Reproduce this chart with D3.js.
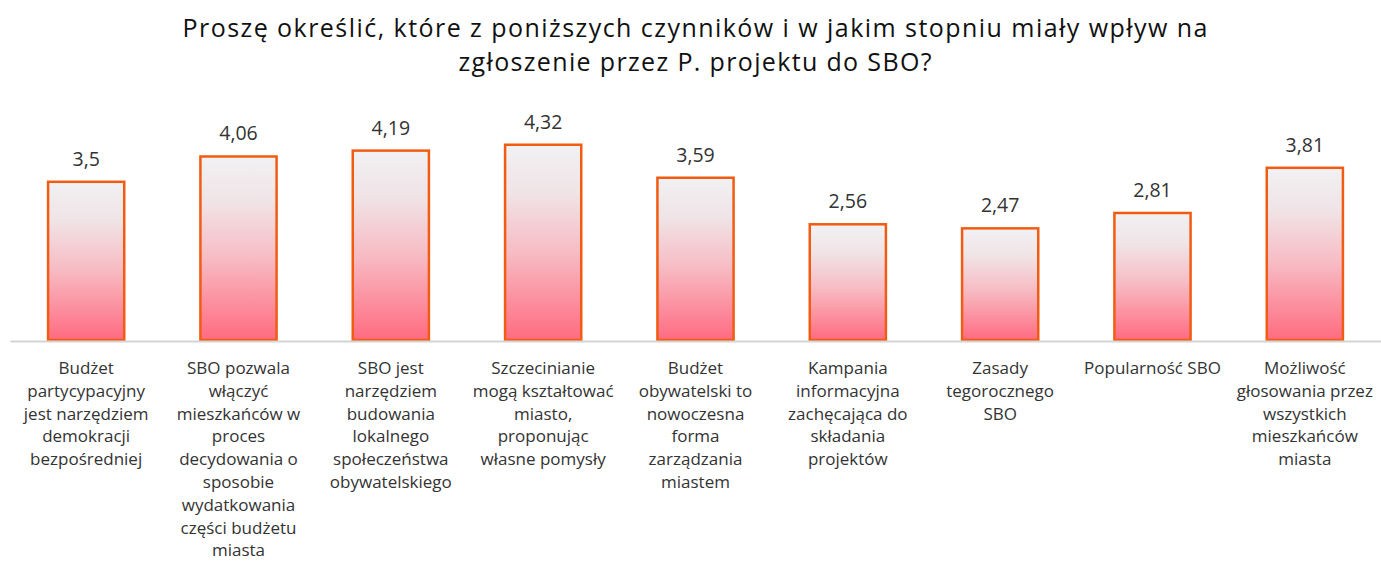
<!DOCTYPE html>
<html>
<head>
<meta charset="utf-8">
<script src="https://cdn.jsdelivr.net/npm/d3@7"></script>
<style>
  body { margin: 0; background: #fff; }
  svg { display: block; font-family: "Open Sans", "DejaVu Sans", sans-serif; }
</style>
</head>
<body>
<div id="chart"></div>
<script>
// title lines
const titleLines = [
    "Proszę określić, które z poniższych czynników i w jakim stopniu miały wpływ na",
    "zgłoszenie przez P. projektu do SBO?"
];
const titleWidths = [1025, 473];

// category labels, already split into lines like in the source chart
const categories = [
    ["Budżet", "partycypacyjny", "jest narzędziem", "demokracji", "bezpośredniej"],
    ["SBO pozwala", "włączyć", "mieszkańców w", "proces", "decydowania o", "sposobie", "wydatkowania", "części budżetu", "miasta"],
    ["SBO jest", "narzędziem", "budowania", "lokalnego", "społeczeństwa", "obywatelskiego"],
    ["Szczecinianie", "mogą kształtować", "miasto,", "proponując", "własne pomysły"],
    ["Budżet", "obywatelski to", "nowoczesna", "forma", "zarządzania", "miastem"],
    ["Kampania", "informacyjna", "zachęcająca do", "składania", "projektów"],
    ["Zasady", "tegorocznego", "SBO"],
    ["Popularność SBO"],
    ["Możliwość", "głosowania przez", "wszystkich", "mieszkańców", "miasta"]
];

const values = [3.5, 4.06, 4.19, 4.32, 3.59, 2.56, 2.47, 2.81, 3.81];

const width = 1381, height = 579;
const baseY = 340;

const svg = d3.select("#chart")
    .append("svg")
        .attr("width", width)
        .attr("height", height);

// gradient fill of bars
const grad = svg.append("defs").append("linearGradient")
    .attr("id", "barGrad")
    .attr("x1", 0).attr("y1", 0).attr("x2", 0).attr("y2", 1);
grad.append("stop").attr("offset", "0%").attr("stop-color", "#f1f1f3");
grad.append("stop").attr("offset", "25%").attr("stop-color", "#f0e3e6");
grad.append("stop").attr("offset", "55%").attr("stop-color", "#f7bcc4");
grad.append("stop").attr("offset", "100%").attr("stop-color", "#ff6b80");

const idx = d3.range(values.length);

const x = d3.scaleBand()
    .domain(idx)
    .range([10, 1381])
    .paddingInner(0.5)
    .paddingOuter(0.25);

const y = d3.scaleLinear()
    .domain([0, 4.32])
    .range([baseY, baseY - 4.32 * 45.2]);

// title
svg.append("g")
    .selectAll("text")
    .data(titleLines)
    .join("text")
        .attr("x", 695)
        .attr("y", (d, i) => 37 + i * 34)
        .attr("text-anchor", "middle")
        .attr("textLength", (d, i) => titleWidths[i])
        .attr("lengthAdjust", "spacing")
        .style("font-size", "25px")
        .style("fill", "#111")
        .text(d => d);

// bars
svg.append("g")
    .selectAll("rect")
    .data(values)
    .join("rect")
        .attr("x", (d, i) => x(i))
        .attr("y", d => y(d))
        .attr("width", x.bandwidth())
        .attr("height", d => baseY - y(d))
        .attr("fill", "url(#barGrad)")
        .attr("stroke", "#f25c12")
        .attr("stroke-width", 2.5);

// axis line
svg.append("g")
    .attr("transform", `translate(0,${baseY + 1})`)
    .call(d3.axisBottom(x).tickSize(0).tickFormat(""))
    .call(g => g.select(".domain").attr("stroke", "#d4d4d4").attr("stroke-width", 2));

// value labels
svg.append("g")
    .selectAll("text")
    .data(values)
    .join("text")
        .attr("x", (d, i) => x(i) + x.bandwidth() / 2)
        .attr("y", d => y(d) - 16)
        .attr("text-anchor", "middle")
        .style("font-size", "19.5px")
        .style("fill", "#333")
        .text(d => String(d).replace(".", ","));

// category labels
const lab = svg.append("g")
    .selectAll("text")
    .data(categories)
    .join("text")
        .attr("x", (d, i) => x(i) + x.bandwidth() / 2)
        .attr("y", 374)
        .attr("text-anchor", "middle")
        .style("font-size", "17px")
        .style("fill", "#333");

lab.selectAll("tspan")
    .data(d => d)
    .join("tspan")
        .attr("x", function() { return d3.select(this.parentNode).attr("x"); })
        .attr("dy", (d, i) => i === 0 ? 0 : 22.8)
        .text(d => d);
</script>
</body>
</html>
